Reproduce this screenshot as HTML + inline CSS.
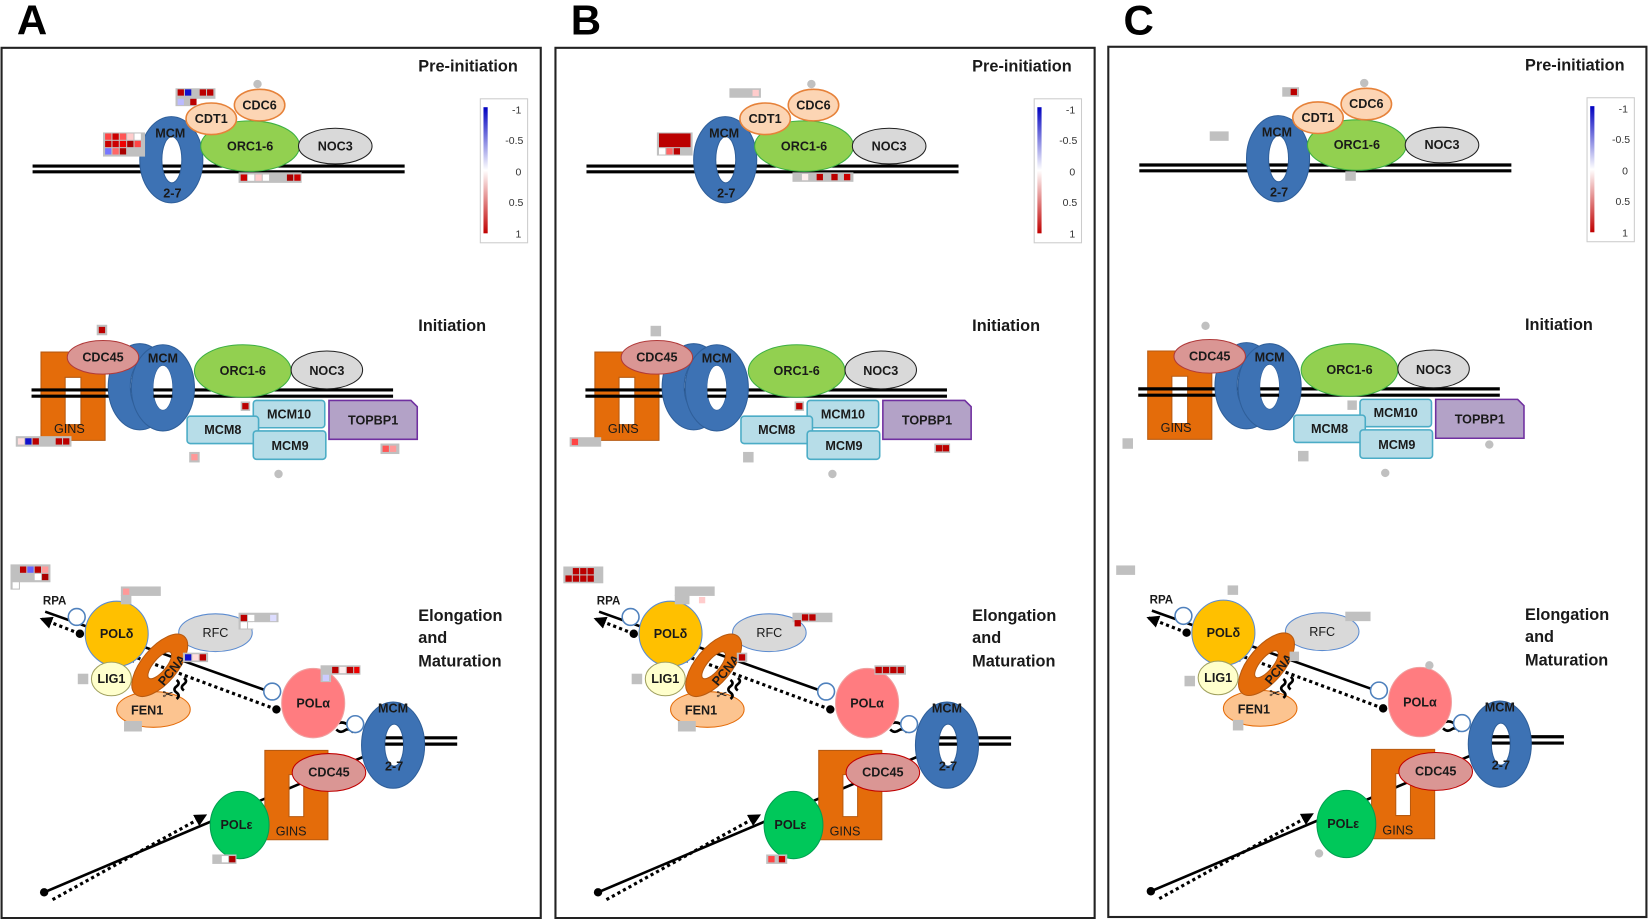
<!DOCTYPE html>
<html><head><meta charset="utf-8"><style>
html,body{margin:0;padding:0;background:#fff;}
svg{display:block;}
text{font-family:"Liberation Sans",sans-serif;font-weight:bold;fill:#1a1a1a;text-anchor:middle;font-size:12px;}
.t{font-size:15.5px;text-anchor:start;}
.L{font-size:40px;text-anchor:start;fill:#000;}
.lg{font-size:10px;font-weight:normal;text-anchor:end;fill:#333;}
.mcm{fill:#3d72b4;fill-rule:evenodd;stroke:#2f5f9a;stroke-width:1;}
.dna{stroke:#000;stroke-width:3;}
.dot{stroke:#000;stroke-width:3;stroke-dasharray:3 3;fill:none;}
.sl{stroke:#000;stroke-width:2.5;fill:none;}
.g{fill:#c0c0c0;}
</style></head><body>
<svg width="1648" height="919" viewBox="0 0 1568 874.4" preserveAspectRatio="none" xmlns="http://www.w3.org/2000/svg">
<defs>
<linearGradient id="lgd" x1="0" y1="0" x2="0" y2="1"><stop offset="0" stop-color="#0000c0"/><stop offset="0.5" stop-color="#ffffff"/><stop offset="1" stop-color="#c00000"/></linearGradient>
<marker id="ah" viewBox="0 0 10 10" refX="8" refY="5" markerWidth="4" markerHeight="4" orient="auto"><path d="M0,0 L10,5 L0,10 z" fill="#000"/></marker>
</defs>
<rect width="1568" height="875" fill="#fff"/>
<text class="L" x="16" y="33">A</text>
<text class="L" x="543" y="33">B</text>
<text class="L" x="1069" y="33">C</text>

<!-- PANEL A -->
<g transform="translate(0,0)">
<rect x="1.5" y="45.5" width="513" height="828" fill="none" stroke="#222" stroke-width="2"/>
<text class="t" x="398" y="68">Pre-initiation</text>
<rect x="457" y="94" width="45" height="137" fill="#fff" stroke="#ccc"/>
<rect x="460" y="102" width="4" height="120" fill="url(#lgd)"/>
<text class="lg" x="496" y="108">-1</text><text class="lg" x="498" y="137">-0.5</text><text class="lg" x="496" y="167">0</text><text class="lg" x="498" y="196">0.5</text><text class="lg" x="496" y="226">1</text>
<line class="dna" x1="31" y1="158" x2="385" y2="158"/><line class="dna" x1="31" y1="163.5" x2="385" y2="163.5"/>
<path class="mcm" d="M133,152 a30,41 0 1,0 60,0 a30,41 0 1,0 -60,0 Z M154,152 a9.5,22 0 1,0 19,0 a9.5,22 0 1,0 -19,0 Z"/>
<ellipse cx="238" cy="139" rx="47" ry="24" fill="#92d050" stroke="#3cb043"/>
<ellipse cx="319" cy="139" rx="35" ry="17" fill="#d9d9d9" stroke="#222"/>
<ellipse cx="201" cy="113" rx="24" ry="15" fill="#fcd5b4" stroke="#e6823a" stroke-width="1.5"/>
<ellipse cx="247" cy="100" rx="24" ry="15" fill="#fcd5b4" stroke="#e6823a" stroke-width="1.5"/>
<circle cx="245" cy="80" r="4" fill="#c0c0c0"/>
<text x="162" y="131">MCM</text><text x="164" y="188">2-7</text><text x="238" y="143">ORC1-6</text><text x="319" y="143">NOC3</text><text x="201" y="117">CDT1</text><text x="247" y="104">CDC6</text>

<text class="t" x="398" y="315">Initiation</text>
<path d="M39,335 h61 v84 h-61 z M62,359 v45 h15 v-45 z" fill="#e46c0a" fill-rule="evenodd" stroke="#b85a10"/>
<line class="dna" x1="30" y1="371" x2="374" y2="371"/><line class="dna" x1="30" y1="377" x2="374" y2="377"/>
<path class="mcm" d="M103,368 a30,41 0 1,0 60,0 a30,41 0 1,0 -60,0 Z M124,368 a9,21 0 1,0 18,0 a9,21 0 1,0 -18,0 Z"/>
<path class="mcm" d="M125,369 a30,41 0 1,0 60,0 a30,41 0 1,0 -60,0 Z M146,369 a9,21 0 1,0 18,0 a9,21 0 1,0 -18,0 Z"/>
<ellipse cx="155" cy="369" rx="9" ry="21" fill="#fff"/>
<line class="dna" x1="146" y1="371" x2="164" y2="371"/><line class="dna" x1="146" y1="377" x2="164" y2="377"/>
<ellipse cx="98" cy="340" rx="34" ry="16" fill="#da9694" stroke="#b03a3a"/>
<ellipse cx="231" cy="353" rx="46" ry="25" fill="#92d050" stroke="#3cb043"/>
<ellipse cx="311" cy="352" rx="34" ry="18" fill="#d9d9d9" stroke="#222"/>
<rect x="241" y="381" width="68" height="26" rx="3" fill="#b7dde8" stroke="#4bacc6" stroke-width="1.5"/>
<rect x="178" y="396" width="68" height="26" rx="3" fill="#b7dde8" stroke="#4bacc6" stroke-width="1.5"/>
<rect x="241" y="410" width="69" height="27" rx="3" fill="#b7dde8" stroke="#4bacc6" stroke-width="1.5"/>
<path d="M313,381 h78 l6,6 v31 h-84 z" fill="#b3a2c7" stroke="#7030a0" stroke-width="1.5"/>
<text x="98" y="344">CDC45</text><text x="155" y="345">MCM</text><text x="231" y="357">ORC1-6</text><text x="311" y="357">NOC3</text><text x="66" y="412" style="font-weight:normal">GINS</text>
<text x="275" y="398">MCM10</text><text x="212" y="413">MCM8</text><text x="276" y="428">MCM9</text><text x="355" y="404">TOPBP1</text>

<text class="t" x="398" y="591">Elongation</text><text class="t" x="398" y="612">and</text><text class="t" x="398" y="634">Maturation</text>
<text x="52" y="575" style="font-size:11px">RPA</text>
<line class="sl" x1="43" y1="582" x2="259" y2="659"/>
<line class="dot" x1="76" y1="603" x2="40" y2="589" marker-end="url(#ah)"/>
<line class="dot" x1="263" y1="675" x2="120" y2="622" marker-end="url(#ah)"/>
<line class="sl" x1="42" y1="849" x2="346" y2="720"/>
<line class="dot" x1="50" y1="856" x2="195" y2="776" marker-end="url(#ah)"/>
<circle cx="42" cy="849" r="4" fill="#000"/>
<circle cx="76" cy="603" r="4" fill="#000"/>
<circle cx="263" cy="675" r="4" fill="#000"/>
<line class="dna" x1="363" y1="702" x2="435" y2="702"/><line class="dna" x1="363" y1="708" x2="435" y2="708"/>
<path class="mcm" d="M344,709 a30,41 0 1,0 60,0 a30,41 0 1,0 -60,0 Z M366,709 a9,20 0 1,0 18,0 a9,20 0 1,0 -18,0 Z"/>
<path d="M322,688 q6,-2 10,3 M320,694 q4,4 8,1 q4,-3 8,2" class="sl" stroke-width="1.5"/>
<path d="M252,714 h60 v85 h-60 z M275,737 v40 h14 v-40 z" fill="#e46c0a" fill-rule="evenodd" stroke="#b85a10"/>
<ellipse cx="313" cy="735" rx="35" ry="18" fill="#da9694" stroke="#c00000"/>
<ellipse cx="228" cy="785" rx="28" ry="32" fill="#00c85a" stroke="#00a050"/>
<ellipse cx="111" cy="603" rx="30" ry="31" fill="#ffc000" stroke="#5b8bd0"/>
<ellipse cx="205" cy="602" rx="35" ry="18" fill="#d9d9d9" stroke="#5b8bd0"/>
<ellipse cx="146" cy="675" rx="35" ry="17" fill="#fcc490" stroke="#e46c0a"/>
<g transform="translate(152,633) rotate(-50)"><path d="M-36,0 a36,17 0 1,0 72,0 a36,17 0 1,0 -72,0 Z M-16,0 a16,6 0 1,0 32,0 a16,6 0 1,0 -32,0 Z" fill="#e46c0a" fill-rule="evenodd" stroke="#b85a10"/><text x="4" y="16" style="font-size:12px">PCNA</text></g>
<ellipse cx="106" cy="646" rx="19" ry="16" fill="#ffffcc" stroke="#a0a060"/>
<ellipse cx="298" cy="669" rx="30" ry="33" fill="#ff7c80" stroke="#f0a0a0"/>
<circle cx="73" cy="587" r="8" fill="#fff" stroke="#4f81bd" stroke-width="1.5"/>
<circle cx="259" cy="658" r="8" fill="#fff" stroke="#4f81bd" stroke-width="1.5"/>
<circle cx="338" cy="689" r="8" fill="#fff" stroke="#4f81bd" stroke-width="1.5"/>
<path d="M168,647 q4,3 0,6 q-4,3 0,6 q4,3 0,6 M175,645 q4,3 0,6 q-4,3 0,6" class="sl" stroke-width="1.3"/>
<text x="160" y="665" style="font-family:'DejaVu Sans',sans-serif;font-size:13px;font-weight:normal">✂</text>
<text x="111" y="607">POLδ</text><text x="205" y="606" style="font-weight:normal">RFC</text><text x="106" y="650">LIG1</text><text x="140" y="680">FEN1</text><text x="298" y="673">POLα</text><text x="374" y="678">MCM</text><text x="375" y="733">2-7</text><text x="313" y="739">CDC45</text><text x="277" y="795" style="font-weight:normal">GINS</text><text x="225" y="789">POLε</text>
<!-- heatmaps A -->
<rect class="g" x="167" y="84" width="38" height="10"/><rect class="g" x="167" y="93" width="20" height="8"/>
<rect x="169" y="85" width="6" height="6" fill="#b00"/><rect x="176" y="85" width="6" height="6" fill="#11c"/><rect x="190" y="85" width="6" height="6" fill="#b00"/><rect x="197" y="85" width="6" height="6" fill="#b00"/><rect x="169" y="94" width="6" height="6" fill="#bbf"/><rect x="181" y="94" width="6" height="6" fill="#b00"/>
<rect class="g" x="98" y="126" width="40" height="23"/>
<rect x="100" y="127" width="6" height="6" fill="#f44"/><rect x="107" y="127" width="6" height="6" fill="#c00"/><rect x="114" y="127" width="6" height="6" fill="#f55"/><rect x="121" y="127" width="6" height="6" fill="#fcc"/><rect x="128" y="127" width="6" height="6" fill="#fff"/>
<rect x="100" y="134" width="6" height="6" fill="#c00"/><rect x="107" y="134" width="6" height="6" fill="#c00"/><rect x="114" y="134" width="6" height="6" fill="#e00"/><rect x="121" y="134" width="6" height="6" fill="#a00"/><rect x="128" y="134" width="6" height="6" fill="#f44"/>
<rect x="100" y="141" width="6" height="6" fill="#77f"/><rect x="107" y="141" width="6" height="6" fill="#f66"/><rect x="114" y="141" width="6" height="6" fill="#a00"/>
<rect class="g" x="227" y="164" width="60" height="10"/>
<rect x="229" y="166" width="6" height="6" fill="#c00"/><rect x="236" y="166" width="6" height="6" fill="#fff"/><rect x="243" y="166" width="6" height="6" fill="#fcc"/><rect x="250" y="166" width="6" height="6" fill="#fff"/><rect x="273" y="166" width="6" height="6" fill="#a00"/><rect x="280" y="166" width="6" height="6" fill="#c00"/>
<rect class="g" x="92" y="309" width="10" height="10"/><rect x="94" y="311" width="6" height="6" fill="#b00"/>
<rect class="g" x="15" y="415" width="53" height="10"/><rect x="17" y="417" width="6" height="6" fill="#fdd"/><rect x="24" y="417" width="6" height="6" fill="#11c"/><rect x="31" y="417" width="6" height="6" fill="#b00"/><rect x="53" y="417" width="6" height="6" fill="#b00"/><rect x="60" y="417" width="6" height="6" fill="#b00"/>
<rect class="g" x="229" y="382" width="9" height="9"/><rect x="230.5" y="383.5" width="6" height="6" fill="#b00"/>
<rect class="g" x="180" y="430" width="10" height="10"/><rect x="182" y="432" width="6" height="6" fill="#f99"/>
<rect class="g" x="362" y="422" width="18" height="10"/><rect x="364" y="424" width="6" height="6" fill="#f55"/><rect x="371" y="424" width="6" height="6" fill="#f99"/>
<circle cx="265" cy="451" r="4" fill="#c0c0c0"/>
<rect class="g" x="10" y="537" width="38" height="17"/><rect class="g" x="10" y="552" width="9" height="9"/>
<rect x="19" y="539" width="6" height="6" fill="#b00"/><rect x="26" y="539" width="6" height="6" fill="#66f"/><rect x="33" y="539" width="6" height="6" fill="#b00"/><rect x="40" y="539" width="6" height="6" fill="#f99"/><rect x="33" y="546" width="6" height="6" fill="#fff"/><rect x="40" y="546" width="6" height="6" fill="#a00"/><rect x="12" y="554" width="6" height="6" fill="#fff"/>
<rect class="g" x="115" y="558" width="38" height="9"/><rect class="g" x="115" y="566" width="10" height="9"/><rect x="117" y="560" width="6" height="6" fill="#f99"/>
<rect class="g" x="227" y="583" width="38" height="9"/><rect class="g" x="227" y="591" width="14" height="8"/><rect x="229" y="585" width="6" height="6" fill="#b00"/><rect x="236" y="585" width="6" height="6" fill="#fff"/><rect x="229" y="592" width="6" height="6" fill="#fff"/><rect x="236" y="592" width="6" height="6" fill="#fff"/><rect x="257" y="585" width="6" height="6" fill="#ddf"/>
<rect class="g" x="174" y="621" width="24" height="9"/><rect x="176" y="622.5" width="6" height="6" fill="#11c"/><rect x="183" y="622.5" width="6" height="6" fill="#fdd"/><rect x="190" y="622.5" width="6" height="6" fill="#b00"/>
<rect class="g" x="305" y="633" width="38" height="9"/><rect class="g" x="305" y="641" width="10" height="8"/><rect x="316" y="634.5" width="6" height="6" fill="#b00"/><rect x="323" y="634.5" width="6" height="6" fill="#fee"/><rect x="330" y="634.5" width="6" height="6" fill="#b00"/><rect x="337" y="634.5" width="5" height="6" fill="#e00"/><rect x="307" y="642" width="6" height="6" fill="#ccf"/>
<rect class="g" x="74" y="641" width="10" height="10"/>
<rect class="g" x="118" y="686" width="17" height="10"/>
<rect class="g" x="202" y="813" width="23" height="9"/><rect x="211" y="814.5" width="6" height="6" fill="#fff"/><rect x="218" y="814.5" width="6" height="6" fill="#a00"/>
</g>

<!-- PANEL B -->
<g transform="translate(527,0)">
<rect x="1.5" y="45.5" width="513" height="828" fill="none" stroke="#222" stroke-width="2"/>
<text class="t" x="398" y="68">Pre-initiation</text>
<rect x="457" y="94" width="45" height="137" fill="#fff" stroke="#ccc"/>
<rect x="460" y="102" width="4" height="120" fill="url(#lgd)"/>
<text class="lg" x="496" y="108">-1</text><text class="lg" x="498" y="137">-0.5</text><text class="lg" x="496" y="167">0</text><text class="lg" x="498" y="196">0.5</text><text class="lg" x="496" y="226">1</text>
<line class="dna" x1="31" y1="158" x2="385" y2="158"/><line class="dna" x1="31" y1="163.5" x2="385" y2="163.5"/>
<path class="mcm" d="M133,152 a30,41 0 1,0 60,0 a30,41 0 1,0 -60,0 Z M154,152 a9.5,22 0 1,0 19,0 a9.5,22 0 1,0 -19,0 Z"/>
<ellipse cx="238" cy="139" rx="47" ry="24" fill="#92d050" stroke="#3cb043"/>
<ellipse cx="319" cy="139" rx="35" ry="17" fill="#d9d9d9" stroke="#222"/>
<ellipse cx="201" cy="113" rx="24" ry="15" fill="#fcd5b4" stroke="#e6823a" stroke-width="1.5"/>
<ellipse cx="247" cy="100" rx="24" ry="15" fill="#fcd5b4" stroke="#e6823a" stroke-width="1.5"/>
<circle cx="245" cy="80" r="4" fill="#c0c0c0"/>
<text x="162" y="131">MCM</text><text x="164" y="188">2-7</text><text x="238" y="143">ORC1-6</text><text x="319" y="143">NOC3</text><text x="201" y="117">CDT1</text><text x="247" y="104">CDC6</text>
<text class="t" x="398" y="315">Initiation</text>
<path d="M39,335 h61 v84 h-61 z M62,359 v45 h15 v-45 z" fill="#e46c0a" fill-rule="evenodd" stroke="#b85a10"/>
<line class="dna" x1="30" y1="371" x2="374" y2="371"/><line class="dna" x1="30" y1="377" x2="374" y2="377"/>
<path class="mcm" d="M103,368 a30,41 0 1,0 60,0 a30,41 0 1,0 -60,0 Z M124,368 a9,21 0 1,0 18,0 a9,21 0 1,0 -18,0 Z"/>
<path class="mcm" d="M125,369 a30,41 0 1,0 60,0 a30,41 0 1,0 -60,0 Z M146,369 a9,21 0 1,0 18,0 a9,21 0 1,0 -18,0 Z"/>
<ellipse cx="155" cy="369" rx="9" ry="21" fill="#fff"/>
<line class="dna" x1="146" y1="371" x2="164" y2="371"/><line class="dna" x1="146" y1="377" x2="164" y2="377"/>
<ellipse cx="98" cy="340" rx="34" ry="16" fill="#da9694" stroke="#b03a3a"/>
<ellipse cx="231" cy="353" rx="46" ry="25" fill="#92d050" stroke="#3cb043"/>
<ellipse cx="311" cy="352" rx="34" ry="18" fill="#d9d9d9" stroke="#222"/>
<rect x="241" y="381" width="68" height="26" rx="3" fill="#b7dde8" stroke="#4bacc6" stroke-width="1.5"/>
<rect x="178" y="396" width="68" height="26" rx="3" fill="#b7dde8" stroke="#4bacc6" stroke-width="1.5"/>
<rect x="241" y="410" width="69" height="27" rx="3" fill="#b7dde8" stroke="#4bacc6" stroke-width="1.5"/>
<path d="M313,381 h78 l6,6 v31 h-84 z" fill="#b3a2c7" stroke="#7030a0" stroke-width="1.5"/>
<text x="98" y="344">CDC45</text><text x="155" y="345">MCM</text><text x="231" y="357">ORC1-6</text><text x="311" y="357">NOC3</text><text x="66" y="412" style="font-weight:normal">GINS</text>
<text x="275" y="398">MCM10</text><text x="212" y="413">MCM8</text><text x="276" y="428">MCM9</text><text x="355" y="404">TOPBP1</text>
<text class="t" x="398" y="591">Elongation</text><text class="t" x="398" y="612">and</text><text class="t" x="398" y="634">Maturation</text>
<text x="52" y="575" style="font-size:11px">RPA</text>
<line class="sl" x1="43" y1="582" x2="259" y2="659"/>
<line class="dot" x1="76" y1="603" x2="40" y2="589" marker-end="url(#ah)"/>
<line class="dot" x1="263" y1="675" x2="120" y2="622" marker-end="url(#ah)"/>
<line class="sl" x1="42" y1="849" x2="346" y2="720"/>
<line class="dot" x1="50" y1="856" x2="195" y2="776" marker-end="url(#ah)"/>
<circle cx="42" cy="849" r="4" fill="#000"/><circle cx="76" cy="603" r="4" fill="#000"/><circle cx="263" cy="675" r="4" fill="#000"/>
<line class="dna" x1="363" y1="702" x2="435" y2="702"/><line class="dna" x1="363" y1="708" x2="435" y2="708"/>
<path class="mcm" d="M344,709 a30,41 0 1,0 60,0 a30,41 0 1,0 -60,0 Z M366,709 a9,20 0 1,0 18,0 a9,20 0 1,0 -18,0 Z"/>
<path d="M322,688 q6,-2 10,3 M320,694 q4,4 8,1 q4,-3 8,2" class="sl" stroke-width="1.5"/>
<path d="M252,714 h60 v85 h-60 z M275,737 v40 h14 v-40 z" fill="#e46c0a" fill-rule="evenodd" stroke="#b85a10"/>
<ellipse cx="313" cy="735" rx="35" ry="18" fill="#da9694" stroke="#c00000"/>
<ellipse cx="228" cy="785" rx="28" ry="32" fill="#00c85a" stroke="#00a050"/>
<ellipse cx="111" cy="603" rx="30" ry="31" fill="#ffc000" stroke="#5b8bd0"/>
<ellipse cx="205" cy="602" rx="35" ry="18" fill="#d9d9d9" stroke="#5b8bd0"/>
<ellipse cx="146" cy="675" rx="35" ry="17" fill="#fcc490" stroke="#e46c0a"/>
<g transform="translate(152,633) rotate(-50)"><path d="M-36,0 a36,17 0 1,0 72,0 a36,17 0 1,0 -72,0 Z M-16,0 a16,6 0 1,0 32,0 a16,6 0 1,0 -32,0 Z" fill="#e46c0a" fill-rule="evenodd" stroke="#b85a10"/><text x="4" y="16" style="font-size:12px">PCNA</text></g>
<ellipse cx="106" cy="646" rx="19" ry="16" fill="#ffffcc" stroke="#a0a060"/>
<ellipse cx="298" cy="669" rx="30" ry="33" fill="#ff7c80" stroke="#f0a0a0"/>
<circle cx="73" cy="587" r="8" fill="#fff" stroke="#4f81bd" stroke-width="1.5"/>
<circle cx="259" cy="658" r="8" fill="#fff" stroke="#4f81bd" stroke-width="1.5"/>
<circle cx="338" cy="689" r="8" fill="#fff" stroke="#4f81bd" stroke-width="1.5"/>
<path d="M168,647 q4,3 0,6 q-4,3 0,6 q4,3 0,6 M175,645 q4,3 0,6 q-4,3 0,6" class="sl" stroke-width="1.3"/>
<text x="160" y="665" style="font-family:'DejaVu Sans',sans-serif;font-size:13px;font-weight:normal">✂</text>
<text x="111" y="607">POLδ</text><text x="205" y="606" style="font-weight:normal">RFC</text><text x="106" y="650">LIG1</text><text x="140" y="680">FEN1</text><text x="298" y="673">POLα</text><text x="374" y="678">MCM</text><text x="375" y="733">2-7</text><text x="313" y="739">CDC45</text><text x="277" y="795" style="font-weight:normal">GINS</text><text x="225" y="789">POLε</text>
<!-- heatmaps B -->
<rect class="g" x="167" y="84" width="30" height="9"/><rect x="189" y="85.5" width="6" height="6" fill="#fcc"/>
<rect class="g" x="98" y="126" width="34" height="22"/>
<rect x="100" y="127" width="30" height="13" fill="#b00"/><rect x="100" y="141" width="6" height="6" fill="#fff"/><rect x="107" y="141" width="6" height="6" fill="#f66"/><rect x="114" y="141" width="6" height="6" fill="#b00"/>
<rect class="g" x="227" y="164" width="58" height="9"/><rect x="236" y="165.5" width="6" height="6" fill="#fee"/><rect x="250" y="165.5" width="6" height="6" fill="#b00"/><rect x="264" y="165.5" width="6" height="6" fill="#b00"/><rect x="276" y="165.5" width="6" height="6" fill="#c00"/>
<rect class="g" x="92" y="310" width="10" height="10"/>
<rect class="g" x="15" y="416" width="30" height="9"/><rect x="17" y="417.5" width="6" height="6" fill="#f44"/>
<rect class="g" x="229" y="382" width="9" height="9"/><rect x="230.5" y="383.5" width="6" height="6" fill="#b00"/>
<rect class="g" x="180" y="430" width="10" height="10"/>
<rect class="g" x="362" y="422" width="15" height="9"/><rect x="363.5" y="423.5" width="6" height="6" fill="#b00"/><rect x="370" y="423.5" width="6" height="6" fill="#b00"/>
<circle cx="265" cy="451" r="4" fill="#c0c0c0"/>
<rect class="g" x="9" y="539" width="38" height="16"/><rect x="18" y="540.5" width="6" height="6" fill="#b00"/><rect x="25" y="540.5" width="6" height="6" fill="#b00"/><rect x="32" y="540.5" width="6" height="6" fill="#b00"/><rect x="11" y="547.5" width="6" height="6" fill="#b00"/><rect x="18" y="547.5" width="6" height="6" fill="#b00"/><rect x="25" y="547.5" width="6" height="6" fill="#b00"/><rect x="32" y="547.5" width="6" height="6" fill="#b00"/>
<rect class="g" x="115" y="558" width="38" height="9"/><rect class="g" x="115" y="566" width="14" height="9"/><rect x="138" y="568" width="6" height="6" fill="#fcc"/>
<rect class="g" x="227" y="583" width="38" height="9"/><rect x="229" y="590" width="6" height="6" fill="#b00"/><rect x="236" y="584.5" width="6" height="6" fill="#b00"/><rect x="243" y="584.5" width="6" height="6" fill="#b00"/>
<rect class="g" x="174" y="621" width="10" height="9"/><rect x="176" y="622.5" width="6" height="6" fill="#b00"/>
<rect class="g" x="305" y="633" width="30" height="9"/><rect x="306" y="634.5" width="6" height="6" fill="#b00"/><rect x="313" y="634.5" width="6" height="6" fill="#b00"/><rect x="320" y="634.5" width="6" height="6" fill="#b00"/><rect x="327" y="634.5" width="6" height="6" fill="#b00"/>
<rect class="g" x="74" y="641" width="10" height="10"/>
<rect class="g" x="118" y="686" width="17" height="10"/>
<rect class="g" x="202" y="813" width="20" height="9"/><rect x="204" y="814.5" width="6" height="6" fill="#f44"/><rect x="214" y="814.5" width="6" height="6" fill="#c00"/>
</g>

<!-- PANEL C -->
<g transform="translate(1053,-1)">
<rect x="1.5" y="45.5" width="512" height="828" fill="none" stroke="#222" stroke-width="2"/>
<text class="t" x="398" y="68">Pre-initiation</text>
<rect x="457" y="94" width="45" height="137" fill="#fff" stroke="#ccc"/>
<rect x="460" y="102" width="4" height="120" fill="url(#lgd)"/>
<text class="lg" x="496" y="108">-1</text><text class="lg" x="498" y="137">-0.5</text><text class="lg" x="496" y="167">0</text><text class="lg" x="498" y="196">0.5</text><text class="lg" x="496" y="226">1</text>
<line class="dna" x1="31" y1="158" x2="385" y2="158"/><line class="dna" x1="31" y1="163.5" x2="385" y2="163.5"/>
<path class="mcm" d="M133,152 a30,41 0 1,0 60,0 a30,41 0 1,0 -60,0 Z M154,152 a9.5,22 0 1,0 19,0 a9.5,22 0 1,0 -19,0 Z"/>
<ellipse cx="238" cy="139" rx="47" ry="24" fill="#92d050" stroke="#3cb043"/>
<ellipse cx="319" cy="139" rx="35" ry="17" fill="#d9d9d9" stroke="#222"/>
<ellipse cx="201" cy="113" rx="24" ry="15" fill="#fcd5b4" stroke="#e6823a" stroke-width="1.5"/>
<ellipse cx="247" cy="100" rx="24" ry="15" fill="#fcd5b4" stroke="#e6823a" stroke-width="1.5"/>
<circle cx="245" cy="80" r="4" fill="#c0c0c0"/>
<text x="162" y="131">MCM</text><text x="164" y="188">2-7</text><text x="238" y="143">ORC1-6</text><text x="319" y="143">NOC3</text><text x="201" y="117">CDT1</text><text x="247" y="104">CDC6</text>
<text class="t" x="398" y="315">Initiation</text>
<path d="M39,335 h61 v84 h-61 z M62,359 v45 h15 v-45 z" fill="#e46c0a" fill-rule="evenodd" stroke="#b85a10"/>
<line class="dna" x1="30" y1="371" x2="374" y2="371"/><line class="dna" x1="30" y1="377" x2="374" y2="377"/>
<path class="mcm" d="M103,368 a30,41 0 1,0 60,0 a30,41 0 1,0 -60,0 Z M124,368 a9,21 0 1,0 18,0 a9,21 0 1,0 -18,0 Z"/>
<path class="mcm" d="M125,369 a30,41 0 1,0 60,0 a30,41 0 1,0 -60,0 Z M146,369 a9,21 0 1,0 18,0 a9,21 0 1,0 -18,0 Z"/>
<ellipse cx="155" cy="369" rx="9" ry="21" fill="#fff"/>
<line class="dna" x1="146" y1="371" x2="164" y2="371"/><line class="dna" x1="146" y1="377" x2="164" y2="377"/>
<ellipse cx="98" cy="340" rx="34" ry="16" fill="#da9694" stroke="#b03a3a"/>
<ellipse cx="231" cy="353" rx="46" ry="25" fill="#92d050" stroke="#3cb043"/>
<ellipse cx="311" cy="352" rx="34" ry="18" fill="#d9d9d9" stroke="#222"/>
<rect x="241" y="381" width="68" height="26" rx="3" fill="#b7dde8" stroke="#4bacc6" stroke-width="1.5"/>
<rect x="178" y="396" width="68" height="26" rx="3" fill="#b7dde8" stroke="#4bacc6" stroke-width="1.5"/>
<rect x="241" y="410" width="69" height="27" rx="3" fill="#b7dde8" stroke="#4bacc6" stroke-width="1.5"/>
<path d="M313,381 h78 l6,6 v31 h-84 z" fill="#b3a2c7" stroke="#7030a0" stroke-width="1.5"/>
<text x="98" y="344">CDC45</text><text x="155" y="345">MCM</text><text x="231" y="357">ORC1-6</text><text x="311" y="357">NOC3</text><text x="66" y="412" style="font-weight:normal">GINS</text>
<text x="275" y="398">MCM10</text><text x="212" y="413">MCM8</text><text x="276" y="428">MCM9</text><text x="355" y="404">TOPBP1</text>
<text class="t" x="398" y="591">Elongation</text><text class="t" x="398" y="612">and</text><text class="t" x="398" y="634">Maturation</text>
<text x="52" y="575" style="font-size:11px">RPA</text>
<line class="sl" x1="43" y1="582" x2="259" y2="659"/>
<line class="dot" x1="76" y1="603" x2="40" y2="589" marker-end="url(#ah)"/>
<line class="dot" x1="263" y1="675" x2="120" y2="622" marker-end="url(#ah)"/>
<line class="sl" x1="42" y1="849" x2="346" y2="720"/>
<line class="dot" x1="50" y1="856" x2="195" y2="776" marker-end="url(#ah)"/>
<circle cx="42" cy="849" r="4" fill="#000"/><circle cx="76" cy="603" r="4" fill="#000"/><circle cx="263" cy="675" r="4" fill="#000"/>
<line class="dna" x1="363" y1="702" x2="435" y2="702"/><line class="dna" x1="363" y1="708" x2="435" y2="708"/>
<path class="mcm" d="M344,709 a30,41 0 1,0 60,0 a30,41 0 1,0 -60,0 Z M366,709 a9,20 0 1,0 18,0 a9,20 0 1,0 -18,0 Z"/>
<path d="M322,688 q6,-2 10,3 M320,694 q4,4 8,1 q4,-3 8,2" class="sl" stroke-width="1.5"/>
<path d="M252,714 h60 v85 h-60 z M275,737 v40 h14 v-40 z" fill="#e46c0a" fill-rule="evenodd" stroke="#b85a10"/>
<ellipse cx="313" cy="735" rx="35" ry="18" fill="#da9694" stroke="#c00000"/>
<ellipse cx="228" cy="785" rx="28" ry="32" fill="#00c85a" stroke="#00a050"/>
<ellipse cx="111" cy="603" rx="30" ry="31" fill="#ffc000" stroke="#5b8bd0"/>
<ellipse cx="205" cy="602" rx="35" ry="18" fill="#d9d9d9" stroke="#5b8bd0"/>
<ellipse cx="146" cy="675" rx="35" ry="17" fill="#fcc490" stroke="#e46c0a"/>
<g transform="translate(152,633) rotate(-50)"><path d="M-36,0 a36,17 0 1,0 72,0 a36,17 0 1,0 -72,0 Z M-16,0 a16,6 0 1,0 32,0 a16,6 0 1,0 -32,0 Z" fill="#e46c0a" fill-rule="evenodd" stroke="#b85a10"/><text x="4" y="16" style="font-size:12px">PCNA</text></g>
<ellipse cx="106" cy="646" rx="19" ry="16" fill="#ffffcc" stroke="#a0a060"/>
<ellipse cx="298" cy="669" rx="30" ry="33" fill="#ff7c80" stroke="#f0a0a0"/>
<circle cx="73" cy="587" r="8" fill="#fff" stroke="#4f81bd" stroke-width="1.5"/>
<circle cx="259" cy="658" r="8" fill="#fff" stroke="#4f81bd" stroke-width="1.5"/>
<circle cx="338" cy="689" r="8" fill="#fff" stroke="#4f81bd" stroke-width="1.5"/>
<path d="M168,647 q4,3 0,6 q-4,3 0,6 q4,3 0,6 M175,645 q4,3 0,6 q-4,3 0,6" class="sl" stroke-width="1.3"/>
<text x="160" y="665" style="font-family:'DejaVu Sans',sans-serif;font-size:13px;font-weight:normal">✂</text>
<text x="111" y="607">POLδ</text><text x="205" y="606" style="font-weight:normal">RFC</text><text x="106" y="650">LIG1</text><text x="140" y="680">FEN1</text><text x="298" y="673">POLα</text><text x="374" y="678">MCM</text><text x="375" y="733">2-7</text><text x="313" y="739">CDC45</text><text x="277" y="795" style="font-weight:normal">GINS</text><text x="225" y="789">POLε</text>
<!-- heatmaps C -->
<rect class="g" x="167" y="84" width="16" height="9"/><rect x="175" y="85.5" width="6" height="6" fill="#b00"/>
<rect class="g" x="98" y="126" width="18" height="9"/>
<rect class="g" x="227" y="164" width="10" height="9"/>
<circle cx="94" cy="311" r="4" fill="#c0c0c0"/>
<rect class="g" x="229" y="382" width="9" height="9"/>
<rect class="g" x="15" y="418" width="10" height="10"/>
<rect class="g" x="182" y="430" width="10" height="10"/>
<circle cx="364" cy="424" r="4" fill="#c0c0c0"/>
<circle cx="265" cy="451" r="4" fill="#c0c0c0"/>
<rect class="g" x="9" y="539" width="18" height="9"/>
<rect class="g" x="115" y="558" width="10" height="9"/>
<rect class="g" x="227" y="583" width="24" height="9"/>
<rect class="g" x="174" y="621" width="9" height="9"/>
<circle cx="307" cy="634" r="4" fill="#c0c0c0"/>
<rect class="g" x="74" y="644" width="10" height="10"/>
<rect class="g" x="120" y="686" width="10" height="10"/>
<circle cx="202" cy="813" r="4" fill="#c0c0c0"/>
</g>
</svg>
</body></html>
